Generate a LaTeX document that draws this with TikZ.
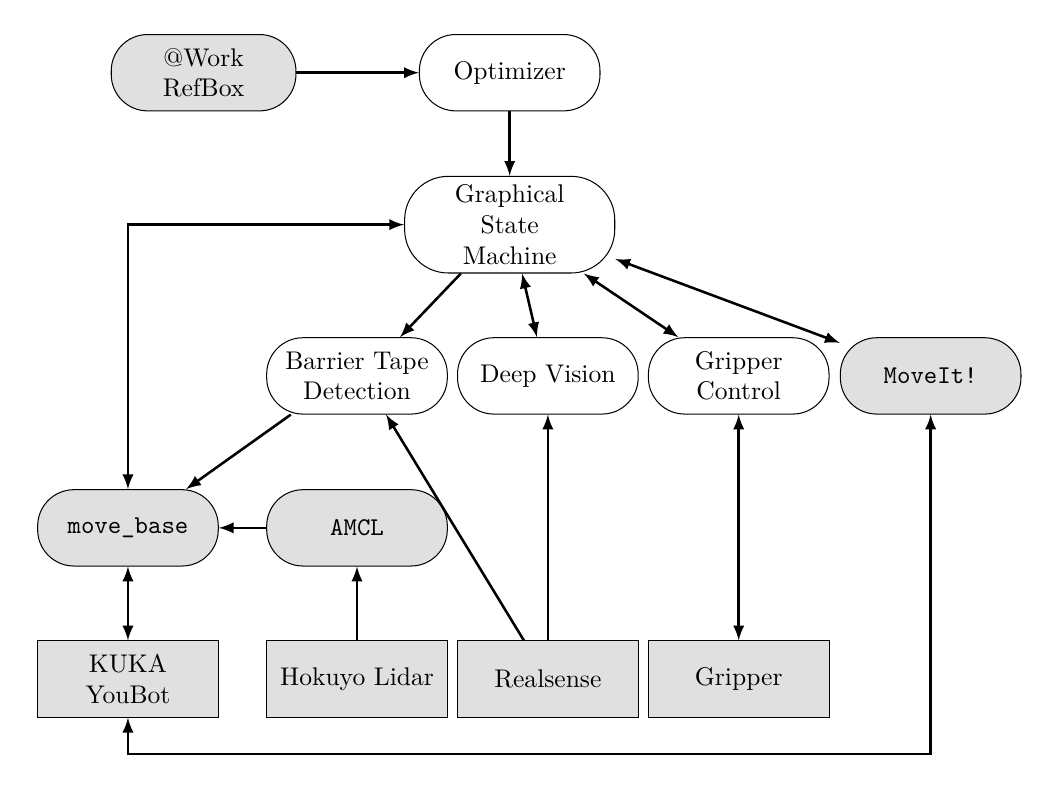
\documentclass[tikz,border=0pt]{standalone}
\usepackage{tikz}
\usetikzlibrary{arrows,calc,positioning}
\tikzstyle{proc}=[draw, fill=white, text width=2.25cm, align=center,
  minimum width=2.34cm, minimum height=1.05cm, rounded corners=0.5cm]
\tikzstyle{ext}=[proc, fill=black!12]
\tikzstyle{hw}=[draw, fill=black!12, text width=2.25cm, align=center,
  minimum width=2.34cm, minimum height=1.05cm]
\tikzstyle{line}=[draw, line width=1pt, -latex]
\tikzstyle{biline}=[draw, line width=1pt, latex-latex]
\begin{document}
\begin{tikzpicture}
  \useasboundingbox (0,0) rectangle (14.4,-10.86);

  % top blocks
  \node (REFBOX) [ext, minimum width=2.54cm] at (2.8,-1.0) {@Work\\ RefBox};
  \node (OPTIM) [proc, minimum width=2.36cm] at (7.01,-1.0) {Optimizer};
  \node (GSM) [proc, minimum width=2.89cm, minimum height=1.27cm,
    rounded corners=0.6cm] at (7.01,-3.09) {Graphical\\ State\\ Machine};

  % middle row
  \node (BARRIER) [proc] at (4.91,-5.17) {Barrier Tape\\ Detection};
  \node (DEEPVIS) [proc] at (7.535,-5.17) {Deep Vision};
  \node (GRIPCTL) [proc] at (10.16,-5.17) {Gripper\\ Control};
  \node (MOVEIT) [ext] at (12.8,-5.17) {\texttt{MoveIt!}};

  \node (MOVEBASE) [ext] at (1.76,-7.26) {\texttt{move\_base}};
  \node (AMCL) [ext] at (4.91,-7.26) {\texttt{AMCL}};

  % hardware
  \node (KUKA) [hw] at (1.76,-9.34) {KUKA\\ YouBot};
  \node (LIDAR) [hw] at (4.91,-9.34) {Hokuyo Lidar};
  \node (RSENSE) [hw] at (7.535,-9.34) {Realsense};
  \node (GRIPPER) [hw] at (10.16,-9.34) {Gripper};
  \coordinate (BOTTOM) at (0,-10.37);

  % arrows
  \path [line] (REFBOX) -- (OPTIM);
  \path [line] (OPTIM) -- (GSM);
  \path [biline] (MOVEBASE.north) |- (GSM.west);
  \path [line] (GSM.-135) -- (BARRIER.42);
  \path [biline] ([xshift=0.17cm]GSM.south) -- ([xshift=-0.15cm]DEEPVIS.north);
  \path [biline] ([xshift=1.02cm]GSM.south) -- ([xshift=-0.83cm]GRIPCTL.north);
  \path [biline] (GSM.-18) -- (MOVEIT.160);
  \path [line] ([xshift=-0.91cm]BARRIER.south) -- ([xshift=0.8cm]MOVEBASE.north);
  \path [line] (AMCL) -- (MOVEBASE);
  \path [biline] (MOVEBASE) -- (KUKA);
  \path [line] (LIDAR) -- (AMCL);
  \path [line] ([xshift=-0.33cm]RSENSE.north) -- ([xshift=0.4cm]BARRIER.south);
  \path [line] (RSENSE) -- (DEEPVIS);
  \path [biline] (GRIPCTL) -- (GRIPPER);
  \path [biline] (KUKA.south) |- (BOTTOM -| MOVEIT.south) -- (MOVEIT.south);
\end{tikzpicture}
\end{document}
